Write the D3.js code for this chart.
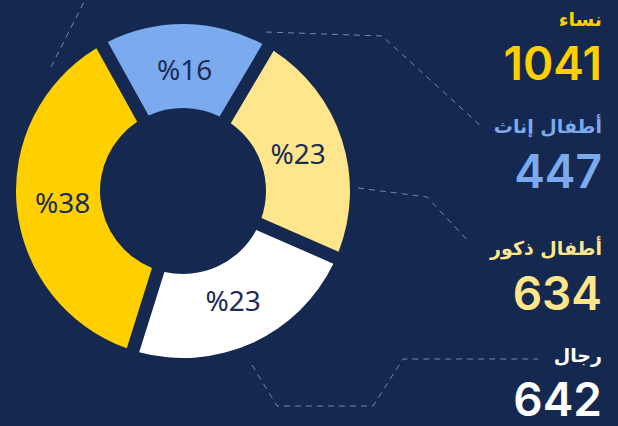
<!DOCTYPE html>
<html>
<head>
<meta charset="utf-8">
<script src="https://cdn.jsdelivr.net/npm/d3@7"></script>
<style>
  html, body { margin: 0; padding: 0; background: #152850; }
  svg { display: block; }
</style>
</head>
<body>
<svg id="chart" width="618" height="426"></svg>
<script>
// datos del gráfico
var categories = ["نساء", "أطفال إناث", "أطفال ذكور", "رجال"];
var values = [1041, 447, 634, 642];
var sliceColors = ["#FFD000", "#7BABEE", "#FFE68C", "#FFFFFF"];
// orden de las porciones en sentido horario, empezando arriba
var pieOrder = [1, 2, 3, 0];

var _width = 618;
var _height = 426;
var _bg = "#152850";
var _labelColor = "#1B2C55";
var _lineColor = "#7D88A2";

var _cx = 183;
var _cy = 191;
var _outerR = 167;
var _innerR = 83;
var _startAngle = -29 * Math.PI / 180;

// filas de la leyenda de la derecha (línea base del nombre y del número)
var _rowName = [26, 133, 255, 362];
var _rowNum = [80, 188, 310, 416];
var _rightX = 602;

var svg = d3.select("#chart");

svg.append("rect")
  .attr("width", _width)
  .attr("height", _height)
  .attr("fill", _bg);

// líneas discontinuas decorativas
var connectors = [
  [[51, 67], [86, -2]],
  [[266, 32], [382, 36], [482, 127]],
  [[358, 188], [427, 197], [470, 243]],
  [[252, 365], [277, 406], [373, 406], [403, 359], [538, 359]]
];

svg.append("g")
  .selectAll("path")
  .data(connectors)
  .enter()
  .append("path")
  .attr("d", d3.line())
  .attr("fill", "none")
  .attr("stroke", _lineColor)
  .attr("stroke-width", 1)
  .attr("stroke-dasharray", "6,5");

var total = d3.sum(values);

var pie = d3.pie()
  .sort(null)
  .value(function(i){ return values[i]; })
  .startAngle(_startAngle)
  .endAngle(_startAngle + 2 * Math.PI)
  .padAngle(0.07);

var arc = d3.arc()
  .innerRadius(_innerR)
  .outerRadius(_outerR);

var gPie = svg.append("g")
  .attr("transform", "translate(" + _cx + "," + _cy + ")");

var arcs = pie(pieOrder);

gPie.selectAll("path")
  .data(arcs)
  .enter()
  .append("path")
  .attr("d", arc)
  .attr("fill", function(d){ return sliceColors[d.data]; });

gPie.selectAll("text")
  .data(arcs)
  .enter()
  .append("text")
  .attr("transform", function(d){
    var c = d3.arc().innerRadius(_innerR - 4).outerRadius(_outerR - 4).centroid(d);
    return "translate(" + c + ")";
  })
  .attr("text-anchor", "middle")
  .attr("dy", "0.36em")
  .attr("font-family", "'Noto Sans', 'Open Sans', sans-serif")
  .attr("font-size", 28)
  .attr("fill", _labelColor)
  .text(function(d){ return "%" + Math.round(values[d.data] / total * 100); });

// leyenda de la derecha
var gLegend = svg.append("g");

categories.forEach(function(name, i){
  gLegend.append("text")
    .attr("x", _rightX)
    .attr("y", _rowName[i])
    .attr("text-anchor", "end")
    .attr("font-family", "'DejaVu Sans', sans-serif")
    .attr("font-size", 19)
    .attr("font-weight", 600)
    .attr("fill", sliceColors[i])
    .text(name);

  gLegend.append("text")
    .attr("x", _rightX)
    .attr("y", _rowNum[i])
    .attr("text-anchor", "end")
    .attr("font-family", "Inter, 'Noto Sans', sans-serif")
    .attr("font-size", 46)
    .attr("font-weight", 600)
    .attr("fill", sliceColors[i])
    .text(values[i]);
});
</script>
</body>
</html>
